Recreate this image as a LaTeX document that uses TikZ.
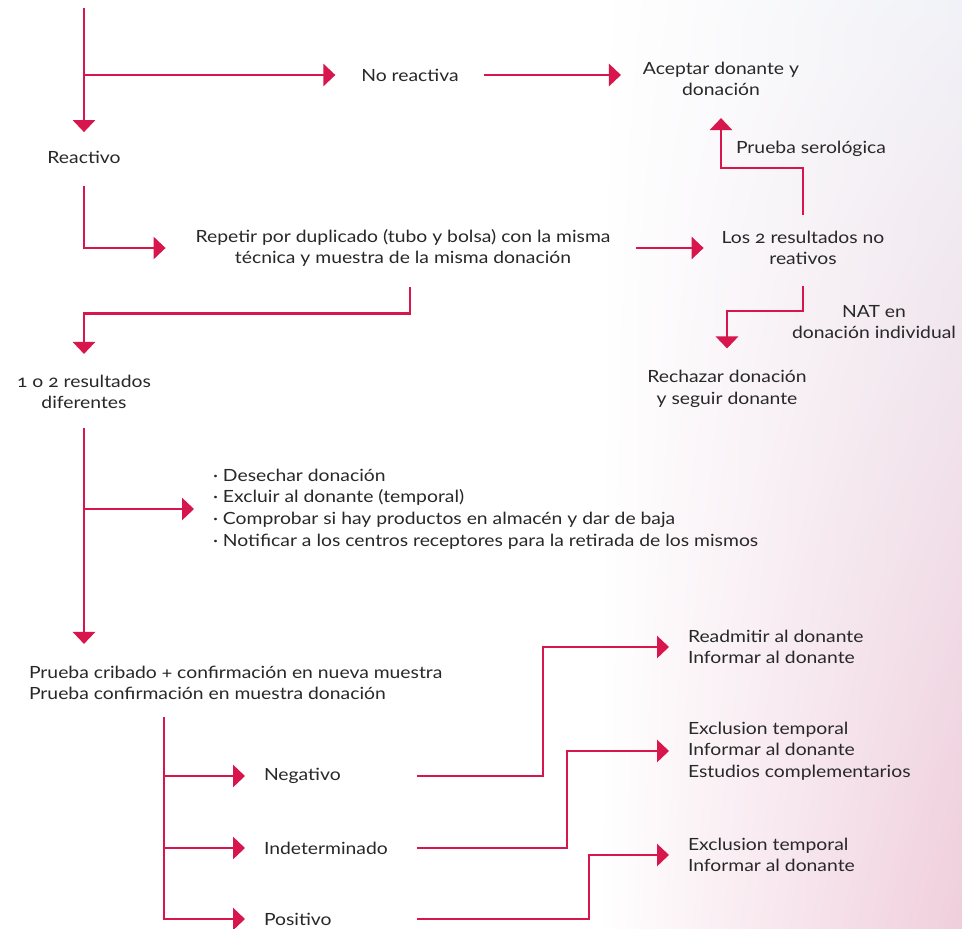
\documentclass[tikz,border=0pt]{standalone}
\usepackage{fontspec}
\setmainfont{Lato}[FakeStretch=1.15, Numbers=OldStyle]
\usetikzlibrary{arrows.meta,shadings}
\definecolor{crim}{RGB}{214,22,76}
\definecolor{txt}{RGB}{40,40,40}
\definecolor{bgtr}{RGB}{241,242,247}
\definecolor{bgbr}{RGB}{240,206,220}
\tikzset{
  lbl/.style={inner sep=0pt, outer sep=0pt, text=txt, font=\fontsize{12.6pt}{16.2pt}\selectfont},
  conn/.style={draw=crim, line width=2.1pt},
  arr/.style={conn, -{Triangle[width=16.5pt,length=9pt]}}
}
\begin{document}
\begin{tikzpicture}[x=0.75pt,y=-0.75pt]
\useasboundingbox (0,0) rectangle (962,928);
\fill[white] (0,0) rectangle (962,928);
\shade[upper left=white, lower left=white, upper right=bgtr, lower right=bgbr] (600,0) rectangle (962,928);

% nodes
\coordinate (top) at (84,8);
\node[lbl] (noreact) at (410,75) {No reactiva};
\node[lbl, align=center] (aceptar) at (721,79) {Aceptar donante y\\donación};
\node[lbl] (reactivo) at (84,157) {Reactivo};
\node[lbl, align=center] (repetir) at (403,248) {Repetir por duplicado (tubo y bolsa) con la misma\\técnica y muestra de la misma donación};
\node[lbl, align=center] (los2) at (803,248) {Los 2 resultados no\\reativos};
\node[lbl, anchor=west] (serol) at (736,149) {Prueba serológica};
\node[lbl, align=center] (nat) at (874,322) {NAT en\\donación individual};
\node[lbl, align=center] (rechazar) at (727,389) {Rechazar donación\\y seguir donante};
\node[lbl, align=center] (dif) at (84,392) {1 o 2 resultados\\diferentes};
\node[lbl, align=left, anchor=west] (bullets) at (213,509) {· Desechar donación\\· Excluir al donante (temporal)\\· Comprobar si hay productos en almacén y dar de baja\\· Notificar a los centros receptores para la retirada de los mismos};
\node[lbl, align=left, anchor=west] (cribado) at (29,683) {Prueba cribado + confirmación en nueva muestra\\Prueba confirmación en muestra donación};
\node[lbl, anchor=west] (neg) at (264,776) {Negativo};
\node[lbl, anchor=west] (indet) at (264,848) {Indeterminado};
\node[lbl, anchor=west] (pos) at (264,919) {Positivo};
\node[lbl, align=left, anchor=west] (r1) at (688,647) {Readmitir al donante\\Informar al donante};
\node[lbl, align=left, anchor=west] (r2) at (688,751) {Exclusion temporal\\Informar al donante\\Estudios complementarios};
\node[lbl, align=left, anchor=west] (r3) at (688,855) {Exclusion temporal\\Informar al donante};
\coordinate (trunk) at (164,717);

% connectors
\draw[arr] (top) -- ([yshift=14pt]reactivo.north);
\draw[arr] (top |- noreact.west) -- ([xshift=-19.5pt]noreact.west);
\draw[arr] ([xshift=18.75pt]noreact.east) -- ([xshift=-16.5pt]aceptar.west |- noreact.east);
\draw[arr] ([yshift=-17pt]reactivo.south) |- ([xshift=-22.5pt]repetir.west);
\draw[arr] ([xshift=19.5pt]repetir.east) -- ([xshift=-13.5pt]los2.west);
\draw[arr] ([yshift=12pt]los2.north) -- ++(0,-47) -| ([yshift=-16.5pt]aceptar.south);
\draw[arr] ([yshift=-15.75pt]los2.south) -- ++(0,25) -| ([yshift=16.5pt]rechazar.north);
\draw[arr] ([xshift=5.25pt,yshift=-15pt]repetir.south) -- ++(0,27) -| ([yshift=15.75pt]dif.north);
\draw[arr] ([yshift=-14pt]dif.south) -- ([yshift=16.5pt]dif.south |- cribado.north);
\draw[arr] (dif.south |- bullets.west) -- ([xshift=-14.25pt]bullets.west);
\draw[arr] (trunk) |- ([xshift=-14.25pt]pos.west);
\draw[arr] (trunk |- neg.west) -- ([xshift=-14.25pt]neg.west);
\draw[arr] (trunk |- indet.west) -- ([xshift=-14.25pt]indet.west);
\draw[arr] ([xshift=114.75pt]neg.west) -- ++(126,0) |- ([xshift=-14.25pt]r1.west);
\draw[arr] ([xshift=114.75pt]indet.west) -- ++(150,0) |- ([xshift=-14.25pt]r2.west);
\draw[arr] ([xshift=114.75pt]pos.west) -- ++(172,0) |- ([xshift=-14.25pt]r3.west);
\end{tikzpicture}
\end{document}
